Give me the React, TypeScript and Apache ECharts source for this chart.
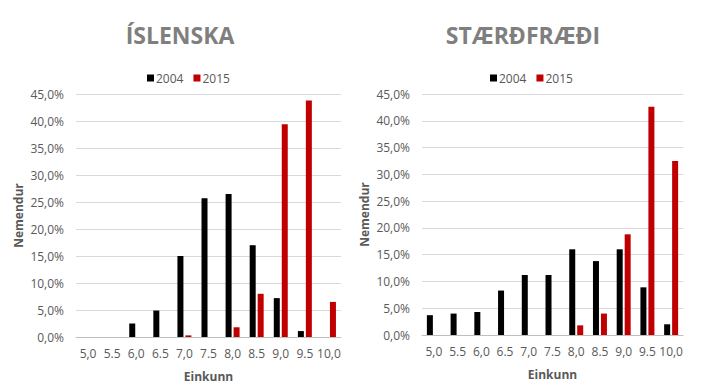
import React, { useEffect, useRef } from "react";
import * as echarts from "echarts";

const categoriesIsl = ["5,0", "5.5", "6,0", "6.5", "7,0", "7.5", "8,0", "8.5", "9,0", "9.5", "10,0"];
const categoriesSta = ["5,0", "5.5", "6,0", "6.5", "7,0", "7.5", "8,0", "8.5", "9,0", "9.5", "10,0"];
const isl2004 = [0, 0, 2.5, 4.9, 15.0, 25.7, 26.5, 17.0, 7.2, 1.1, 0];
const isl2015 = [0, 0, 0, 0, 0.3, 0, 1.8, 8.0, 39.4, 43.8, 6.5];
const sta2004 = [3.7, 4.0, 4.3, 8.3, 11.2, 11.2, 16.0, 13.8, 16.0, 8.9, 2.0];
const sta2015 = [0, 0, 0, 0, 0, 0, 1.8, 4.0, 18.8, 42.6, 32.5];
const yTicks = { min: 0, max: 45, interval: 5 };

const FONT = "'Open Sans', 'Noto Sans', sans-serif";
const BLACK = "#000000";
const RED = "#C00000";
const LABEL = "#595959";

export default function App() {
  const ref = useRef<HTMLDivElement>(null);
  useEffect(() => {
    if (!ref.current) return;
    const chart = echarts.init(ref.current, undefined, { renderer: "svg" });
    const fmt = (v: number) => v.toFixed(1).replace(".", ",") + "%";
    const xAxis = (idx: number, data: string[]) => ({
      type: "category",
      gridIndex: idx,
      data,
      axisTick: { show: false },
      axisLine: { lineStyle: { color: "#bfbfbf" } },
      axisLabel: { color: LABEL, fontSize: 12, fontFamily: FONT, margin: 10, interval: 0 },
      name: "Einkunn",
      nameLocation: "middle",
      nameGap: 33,
      nameTextStyle: { color: LABEL, fontSize: 12, fontWeight: "bold", fontFamily: FONT },
    });
    const yAxis = (idx: number) => ({
      type: "value",
      gridIndex: idx,
      ...yTicks,
      axisLine: { show: false },
      axisTick: { show: false },
      splitLine: { lineStyle: { color: "#d9d9d9" } },
      axisLabel: { color: LABEL, fontSize: 12, fontFamily: FONT, formatter: fmt, margin: 12 },
      name: "Nemendur",
      nameLocation: "middle",
      nameRotate: 90,
      nameGap: 52,
      nameTextStyle: { color: LABEL, fontSize: 12, fontWeight: "bold", fontFamily: FONT },
    });
    const bar = (name: string, idx: number, data: number[], color: string) => ({
      type: "bar",
      name,
      xAxisIndex: idx,
      yAxisIndex: idx,
      data,
      barWidth: 6,
      barGap: "33%",
      itemStyle: { color },
    });
    chart.setOption({
      animation: false,
      title: [
        {
          text: "ÍSLENSKA",
          left: 175,
          top: 18,
          textAlign: "center",
          textStyle: { color: "#7f7f7f", fontSize: 23, fontWeight: "bold", fontFamily: FONT },
        },
        {
          text: "STÆRÐFRÆÐI",
          left: 518,
          top: 18,
          textAlign: "center",
          textStyle: { color: "#7f7f7f", fontSize: 23, fontWeight: "bold", fontFamily: FONT },
        },
      ],
      legend: [
        {
          left: 142,
          top: 67,
          itemWidth: 7,
          itemHeight: 7,
          itemGap: 10,
          icon: "rect",
          data: ["2004", "2015"],
          textStyle: { color: LABEL, fontSize: 12, fontFamily: FONT, padding: [0, 0, 0, -3] },
        },
        {
          left: 485,
          top: 67,
          itemWidth: 7,
          itemHeight: 7,
          itemGap: 10,
          icon: "rect",
          data: ["2004", "2015"],
          textStyle: { color: LABEL, fontSize: 12, fontFamily: FONT, padding: [0, 0, 0, -3] },
        },
      ],
      grid: [
        { left: 76, right: 372, top: 94, bottom: 50 },
        { left: 422, right: 30, top: 94, bottom: 52 },
      ],
      xAxis: [xAxis(0, categoriesIsl), xAxis(1, categoriesSta)],
      yAxis: [yAxis(0), yAxis(1)],
      series: [
        bar("2004", 0, isl2004, BLACK),
        bar("2015", 0, isl2015, RED),
        bar("2004", 1, sta2004, BLACK),
        bar("2015", 1, sta2015, RED),
      ],
    });
    return () => chart.dispose();
  }, []);
  return (
    <div
      ref={ref}
      style={{ position: "absolute", left: 0, top: 0, width: 713, height: 387, background: "#fff" }}
    />
  );
}
